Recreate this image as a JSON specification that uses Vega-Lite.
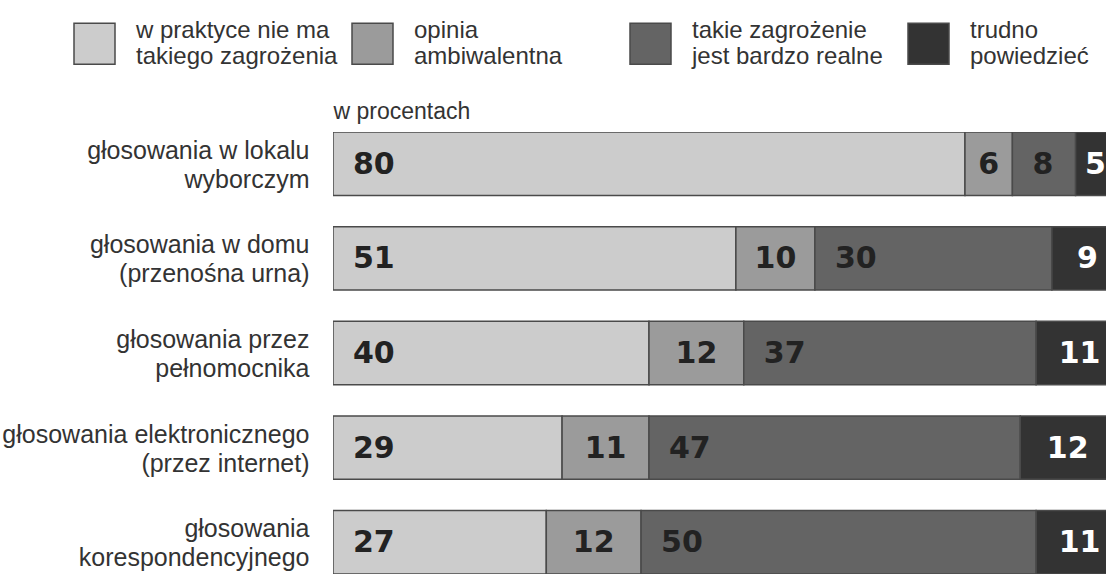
{
  "$schema": "https://vega.github.io/schema/vega-lite/v6.json",
  "width": 773,
  "height": 442,
  "autosize": {"type": "none"},
  "padding": {"left": 333, "top": 132, "right": 0, "bottom": 0},
  "background": "white",
  "data": {
    "values": [
      {"grupa": "głosowania w lokalu|wyborczym", "kat": "w praktyce nie ma|takiego zagrożenia", "ord": 1, "val": 80},
      {"grupa": "głosowania w lokalu|wyborczym", "kat": "opinia|ambiwalentna", "ord": 2, "val": 6},
      {"grupa": "głosowania w lokalu|wyborczym", "kat": "takie zagrożenie|jest bardzo realne", "ord": 3, "val": 8},
      {"grupa": "głosowania w lokalu|wyborczym", "kat": "trudno|powiedzieć", "ord": 4, "val": 5},
      {"grupa": "głosowania w domu|(przenośna urna)", "kat": "w praktyce nie ma|takiego zagrożenia", "ord": 1, "val": 51},
      {"grupa": "głosowania w domu|(przenośna urna)", "kat": "opinia|ambiwalentna", "ord": 2, "val": 10},
      {"grupa": "głosowania w domu|(przenośna urna)", "kat": "takie zagrożenie|jest bardzo realne", "ord": 3, "val": 30},
      {"grupa": "głosowania w domu|(przenośna urna)", "kat": "trudno|powiedzieć", "ord": 4, "val": 9},
      {"grupa": "głosowania przez|pełnomocnika", "kat": "w praktyce nie ma|takiego zagrożenia", "ord": 1, "val": 40},
      {"grupa": "głosowania przez|pełnomocnika", "kat": "opinia|ambiwalentna", "ord": 2, "val": 12},
      {"grupa": "głosowania przez|pełnomocnika", "kat": "takie zagrożenie|jest bardzo realne", "ord": 3, "val": 37},
      {"grupa": "głosowania przez|pełnomocnika", "kat": "trudno|powiedzieć", "ord": 4, "val": 11},
      {"grupa": "głosowania elektronicznego|(przez internet)", "kat": "w praktyce nie ma|takiego zagrożenia", "ord": 1, "val": 29},
      {"grupa": "głosowania elektronicznego|(przez internet)", "kat": "opinia|ambiwalentna", "ord": 2, "val": 11},
      {"grupa": "głosowania elektronicznego|(przez internet)", "kat": "takie zagrożenie|jest bardzo realne", "ord": 3, "val": 47},
      {"grupa": "głosowania elektronicznego|(przez internet)", "kat": "trudno|powiedzieć", "ord": 4, "val": 12},
      {"grupa": "głosowania|korespondencyjnego", "kat": "w praktyce nie ma|takiego zagrożenia", "ord": 1, "val": 27},
      {"grupa": "głosowania|korespondencyjnego", "kat": "opinia|ambiwalentna", "ord": 2, "val": 12},
      {"grupa": "głosowania|korespondencyjnego", "kat": "takie zagrożenie|jest bardzo realne", "ord": 3, "val": 50},
      {"grupa": "głosowania|korespondencyjnego", "kat": "trudno|powiedzieć", "ord": 4, "val": 11}
    ]
  },
  "transform": [
    {"stack": "val", "groupby": ["grupa"], "sort": [{"field": "ord", "order": "ascending"}], "as": ["x0", "x1"]},
    {"calculate": "(datum.x0 + datum.x1) / 2", "as": "mid"}
  ],
  "encoding": {
    "y": {
      "field": "grupa",
      "type": "nominal",
      "sort": null,
      "title": null,
      "scale": {"paddingInner": 0.33, "paddingOuter": 0},
      "axis": {
        "domain": false,
        "ticks": false,
        "labelExpr": "split(datum.label, '|')",
        "labelFont": "Liberation Sans",
        "labelFontSize": 25,
        "labelLineHeight": 29,
        "labelColor": "#333333",
        "labelPadding": 24,
        "labelOffset": -13,
        "labelLimit": 400
      }
    }
  },
  "layer": [
    {
      "mark": {"type": "bar", "stroke": "#4a4a4a", "strokeWidth": 1.5, "clip": true},
      "encoding": {
        "x": {
          "field": "x0",
          "type": "quantitative",
          "title": "w procentach",
          "scale": {"domain": [0, 97.85], "nice": false, "zero": true},
          "axis": {
            "orient": "top",
            "domain": false,
            "ticks": false,
            "labels": false,
            "grid": false,
            "titleAnchor": "start",
            "titleAlign": "left",
            "titleBaseline": "alphabetic",
            "titlePadding": 14,
            "titleFont": "Liberation Sans",
            "titleFontSize": 23,
            "titleFontWeight": "normal",
            "titleColor": "#333333"
          }
        },
        "x2": {"field": "x1"},
        "color": {
          "field": "kat",
          "type": "nominal",
          "sort": null,
          "scale": {
            "domain": ["w praktyce nie ma|takiego zagrożenia", "opinia|ambiwalentna", "takie zagrożenie|jest bardzo realne", "trudno|powiedzieć"],
            "range": ["#cccccc", "#9b9b9b", "#646464", "#333333"]
          },
          "legend": {
            "title": null,
            "orient": "none",
            "legendX": -260,
            "legendY": -110,
            "direction": "horizontal",
            "columns": 4,
            "gridAlign": "all",
            "columnPadding": 11,
            "padding": 0,
            "symbolType": "square",
            "symbolSize": 1681,
            "symbolStrokeColor": "#4a4a4a",
            "symbolStrokeWidth": 1.5,
            "symbolOpacity": 1,
            "labelExpr": "split(datum.label, '|')",
            "labelFont": "Liberation Sans",
            "labelFontSize": 24,
            "labelLineHeight": 28,
            "labelBaseline": "line-bottom",
            "labelColor": "#333333",
            "labelOffset": 20,
            "labelLimit": 300
          }
        }
      }
    },
    {
      "transform": [{"filter": "datum.ord == 1 || datum.ord == 3"}],
      "mark": {"type": "text", "align": "left", "baseline": "middle", "dx": 20, "dy": 1, "font": "DejaVu Sans", "fontWeight": "bold", "fontSize": 30, "fill": "#222222", "clip": true},
      "encoding": {
        "x": {"field": "x0", "type": "quantitative"},
        "text": {"field": "val", "type": "quantitative"}
      }
    },
    {
      "transform": [{"filter": "datum.ord == 2 || datum.ord == 4"}],
      "mark": {"type": "text", "align": "center", "baseline": "middle", "dy": 1, "font": "DejaVu Sans", "fontWeight": "bold", "fontSize": 30, "clip": true},
      "encoding": {
        "x": {"field": "mid", "type": "quantitative"},
        "text": {"field": "val", "type": "quantitative"},
        "color": {
          "condition": {"test": "datum.ord == 4", "value": "#ffffff"},
          "value": "#222222"
        }
      }
    }
  ],
  "config": {
    "view": {"stroke": null}
  }
}
